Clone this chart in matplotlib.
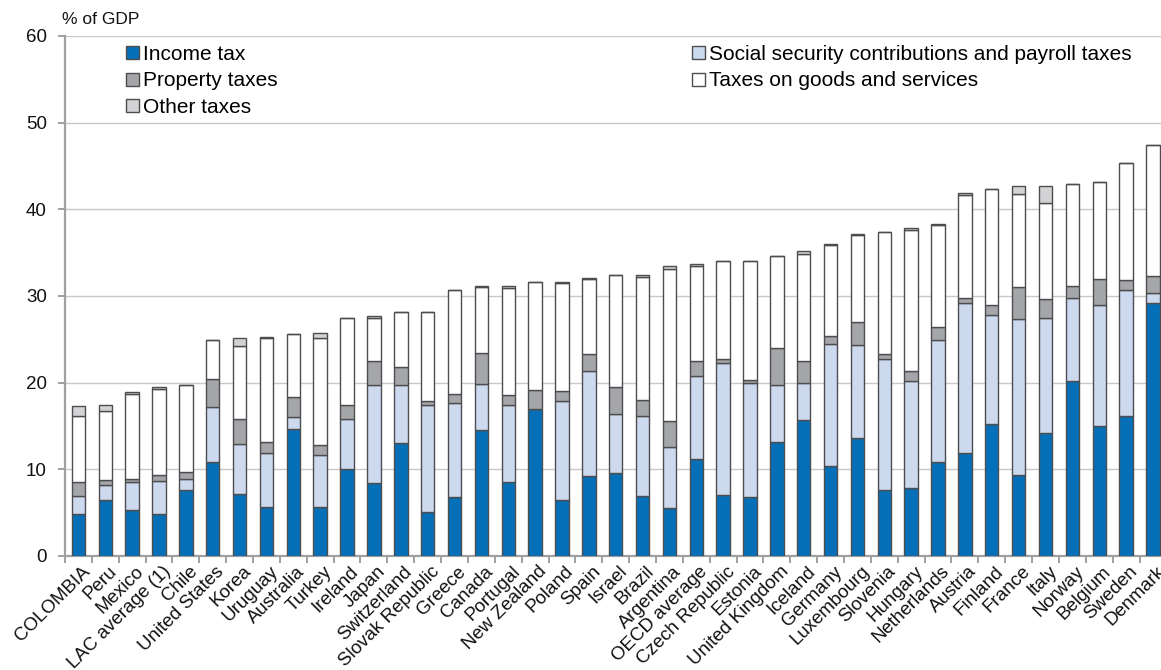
import matplotlib
matplotlib.use("Agg")
import matplotlib.pyplot as plt
import matplotlib.transforms as mtrans
from matplotlib.patches import Patch
import numpy as np

plt.rcParams['font.family'] = ['Liberation Sans', 'DejaVu Sans']

countries = ["COLOMBIA", "Peru", "Mexico", "LAC average (1)", "Chile", "United States",
             "Korea", "Uruguay", "Australia", "Turkey", "Ireland", "Japan", "Switzerland",
             "Slovak Republic", "Greece", "Canada", "Portugal", "New Zealand", "Poland",
             "Spain", "Israel", "Brazil", "Argentina", "OECD average", "Czech Republic",
             "Estonia", "United Kingdom", "Iceland", "Germany", "Luxembourg", "Slovenia",
             "Hungary", "Netherlands", "Austria", "Finland", "France", "Italy", "Norway",
             "Belgium", "Sweden", "Denmark"]

income_tax = [4.8, 6.5, 5.3, 4.8, 7.6, 10.9, 7.1, 5.6, 14.65, 5.6, 10.0, 8.4, 13.0,
              5.05, 6.85, 14.5, 8.5, 16.95, 6.45, 9.2, 9.55, 6.9, 5.5, 11.25, 7.0,
              6.8, 13.1, 15.65, 10.4, 13.6, 7.6, 7.8, 10.8, 11.9, 15.2, 9.4, 14.15,
              20.2, 15.0, 16.2, 29.15]
social_security = [2.1, 1.65, 3.2, 3.8, 1.3, 6.3, 5.8, 6.3, 1.35, 6.05, 5.8, 11.3, 6.7,
                   12.35, 10.85, 5.4, 8.95, 0.0, 11.4, 12.1, 6.8, 9.3, 7.05, 9.5, 15.25,
                   13.15, 6.65, 4.3, 14.05, 10.8, 15.15, 12.4, 14.1, 17.35, 12.6, 17.95,
                   13.35, 9.6, 14.0, 14.55, 1.15]
property_taxes = [1.6, 0.6, 0.35, 0.8, 0.75, 3.2, 2.9, 1.3, 2.4, 1.15, 1.6, 2.75, 2.1,
                  0.45, 1.05, 3.55, 1.15, 2.15, 1.15, 2.0, 3.1, 1.85, 3.05, 1.8, 0.45,
                  0.35, 4.2, 2.5, 0.9, 2.65, 0.6, 1.2, 1.5, 0.55, 1.2, 3.65, 2.1, 1.3,
                  3.0, 1.15, 2.0]
goods_services = [7.7, 7.95, 9.85, 9.85, 10.05, 4.5, 8.4, 12.0, 7.2, 12.4, 10.1, 5.05,
                  6.3, 10.25, 12.0, 7.55, 12.3, 12.5, 12.5, 8.65, 13.0, 14.15, 17.5,
                  10.9, 11.3, 13.7, 10.7, 12.4, 10.55, 9.95, 14.0, 16.2, 11.85, 11.8,
                  13.35, 10.75, 11.1, 11.8, 11.15, 13.4, 15.1]
other_taxes = [1.1, 0.7, 0.2, 0.25, 0.05, 0.0, 0.9, 0.05, 0.0, 0.5, 0.0, 0.15, 0.0,
               0.0, 0.0, 0.1, 0.3, 0.0, 0.1, 0.15, 0.0, 0.25, 0.4, 0.2, 0.0, 0.0, 0.0,
               0.35, 0.05, 0.1, 0.0, 0.2, 0.1, 0.3, 0.05, 1.0, 2.05, 0.0, 0.05, 0.0, 0.0]

series = [
    ("Income tax", income_tax, "#0570b8"),
    ("Social security contributions and payroll taxes", social_security, "#cdd9ee"),
    ("Property taxes", property_taxes, "#a5a6aa"),
    ("Taxes on goods and services", goods_services, "#ffffff"),
    ("Other taxes", other_taxes, "#d3d3d5"),
]

W, H = 1161, 670
fig = plt.figure(figsize=(W / 100, H / 100), dpi=100)
ax = fig.add_axes([65 / W, (H - 556) / H, (W - 65) / W, 520 / H])

x = np.arange(len(countries))
bottom = np.zeros(len(countries))
handles = {}
for name, vals, col in series:
    v = np.array(vals)
    ax.bar(x, v, bottom=bottom, width=0.5, color=col, edgecolor="#4d4d4f",
           linewidth=1.0, zorder=3)
    handles[name] = Patch(facecolor=col, edgecolor="#4d4d4f", linewidth=1.0)
    bottom += v

ax.set_ylim(0, 60)
ax.set_xlim(-0.5, 40.3)
ax.set_yticks(np.arange(0, 61, 10))
ax.yaxis.grid(True, color="#c8c8c8", linewidth=1.0, zorder=0)
ax.set_axisbelow(True)

for s in ["top", "right"]:
    ax.spines[s].set_visible(False)
for s in ["left", "bottom"]:
    ax.spines[s].set_color("#a0a0a2")
    ax.spines[s].set_linewidth(1.6)

ax.tick_params(axis="y", length=5, width=1.4, color="#a0a0a2", labelsize=13.5,
               pad=8, labelcolor="#111111")
ax.set_xticks(x)
ax.set_xticks(np.arange(-0.5, 40.5, 1.0), minor=True)
ax.tick_params(axis="x", which="major", length=0, pad=5)
ax.tick_params(axis="x", which="minor", length=5, width=1.4, color="#a0a0a2")
ax.set_xticklabels(countries, rotation=45, ha="right", va="top",
                   rotation_mode="anchor", fontsize=13.5, color="#111111")
offset = mtrans.ScaledTranslation(3 / 100, 0, fig.dpi_scale_trans)
for lbl in ax.get_xticklabels():
    lbl.set_transform(lbl.get_transform() + offset)

fig.text(62 / W, 1 - 19 / H, "% of GDP", fontsize=12.5, va="center", ha="left",
         color="#111111")

leg_kw = dict(frameon=False, fontsize=15, handlelength=0.6, handleheight=0.6,
              handletextpad=0.2, labelspacing=0.36, borderaxespad=0, borderpad=0)
leg1 = ax.legend([handles["Income tax"], handles["Property taxes"], handles["Other taxes"]],
                 ["Income tax", "Property taxes", "Other taxes"],
                 loc="upper left", bbox_to_anchor=(126 / W, 1 - 45 / H),
                 bbox_transform=fig.transFigure, **leg_kw)
ax.add_artist(leg1)
ax.legend([handles["Social security contributions and payroll taxes"],
           handles["Taxes on goods and services"]],
          ["Social security contributions and payroll taxes", "Taxes on goods and services"],
          loc="upper left", bbox_to_anchor=(692 / W, 1 - 45 / H),
          bbox_transform=fig.transFigure, **leg_kw)

fig.savefig("out.png", dpi=100)
